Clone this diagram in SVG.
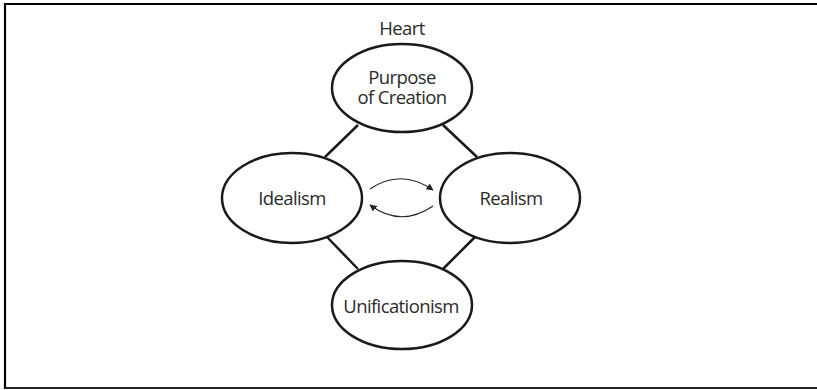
<svg xmlns="http://www.w3.org/2000/svg" width="817" height="390" viewBox="0 0 817 390">
<style>
.node ellipse{fill:#fff;stroke:#1a1a1a;stroke-width:2.5}
.lbl{font-family:"Open Sans","Liberation Sans",sans-serif;font-size:18.5px;letter-spacing:-0.6px;fill:#2b2b2b;text-anchor:middle}
.edge{stroke:#1a1a1a;stroke-width:2.5;fill:none}
.arc{stroke:#222;stroke-width:1.1;fill:none;marker-end:url(#ah)}
</style>
<defs>
<marker id="ah" viewBox="0 0 10 10" refX="9" refY="5" markerWidth="7" markerHeight="7" markerUnits="userSpaceOnUse" orient="auto">
<path d="M0,0 L10,5 L0,10 z" fill="#222"/>
</marker>
</defs>
<rect width="817" height="390" fill="#fff"/>
<path d="M5,389 V4 H817" fill="none" stroke="#000" stroke-width="2.2"/>
<path d="M5,388 H817" fill="none" stroke="#222" stroke-width="1.8"/>
<g id="connectors">
<line class="edge" x1="358" y1="125" x2="325" y2="157"/>
<line class="edge" x1="443" y1="125" x2="477" y2="157"/>
<line class="edge" x1="327" y1="237" x2="358" y2="269"/>
<line class="edge" x1="475" y1="237" x2="443" y2="269"/>
<path class="arc" d="M370,189 Q401,168 433,190"/>
<path class="arc" d="M433,206 Q401,228 370,205"/>
</g>
<text class="lbl" x="402" y="35">Heart</text>
<g id="purpose" class="node">
<ellipse cx="402" cy="88" rx="70" ry="44"/>
<text class="lbl" x="402" y="84">Purpose</text>
<text class="lbl" x="402" y="104">of Creation</text>
</g>
<g id="idealism" class="node">
<ellipse cx="292" cy="198" rx="70" ry="45"/>
<text class="lbl" x="292" y="205">Idealism</text>
</g>
<g id="realism" class="node">
<ellipse cx="510" cy="198" rx="70" ry="45"/>
<text class="lbl" x="511" y="205">Realism</text>
</g>
<g id="unificationism" class="node">
<ellipse cx="402" cy="305" rx="70" ry="44"/>
<text class="lbl" x="401" y="313">Unificationism</text>
</g>
</svg>
